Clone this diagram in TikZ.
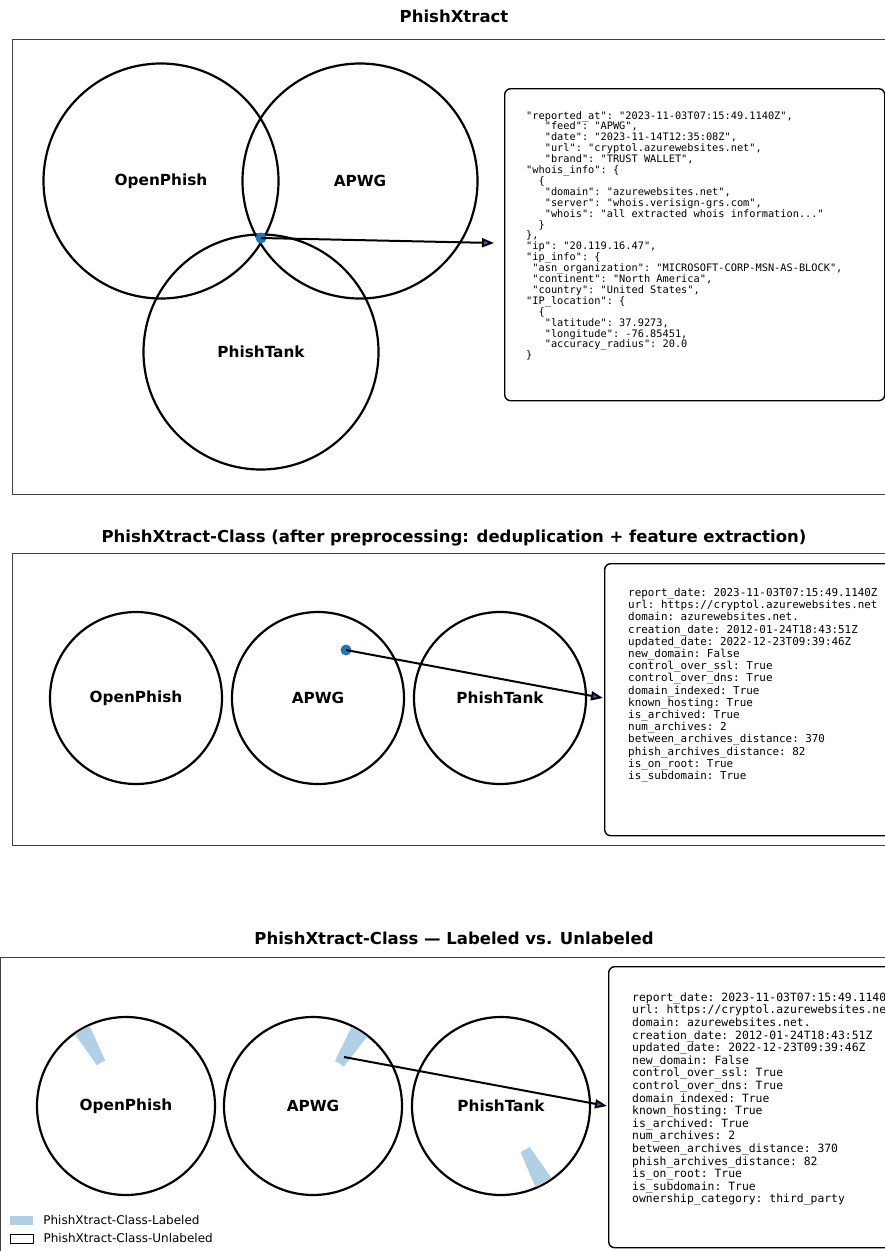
\documentclass[tikz,border=0pt]{standalone}
\usepackage{fontspec}
\setmainfont{DejaVu Sans}
\setmonofont{DejaVu Sans Mono}
\usetikzlibrary{calc,positioning,arrows.meta}
\definecolor{tabblue}{RGB}{31,119,180}
\colorlet{labeled}{tabblue!35}
\colorlet{spine}{black!75}
\tikzset{>={Triangle[length=12pt,width=9pt,fill=tabblue]}}
\newcommand{\monofont}[2]{\ttfamily\frenchspacing\fontsize{#1}{#2}\selectfont}
\tikzstyle{venn}=[circle,draw,line width=2.2pt,inner sep=0pt,font=\fontsize{15.3}{18}\selectfont\bfseries]
\tikzstyle{dot}=[circle,fill=tabblue,inner sep=0pt,minimum size=11pt]
\tikzstyle{link}=[->,line width=2pt,black]
\tikzstyle{frame}=[draw=spine,line width=1pt]
\tikzstyle{infobox}=[draw,line width=1.4pt,rounded corners=6pt,anchor=north west,inner sep=0pt]
\tikzstyle{infotext}=[align=left,anchor=north west,inner sep=0pt]
\tikzstyle{paneltitle}=[anchor=base,inner sep=0pt,font=\fontsize{16.5}{20}\selectfont\bfseries]
\tikzstyle{legpatch}=[inner sep=0pt,minimum width=23pt,minimum height=9pt]
\tikzstyle{legtext}=[inner sep=0pt,font=\fontsize{12}{14}\selectfont]
% labeled slice of a source circle: #1 centre, #2 and #3 angles as seen on the page
\newcommand{\labslice}[3]{%
  \pgfmathsetmacro\sa{-(#2)}
  \pgfmathsetmacro\sb{-(#3)}
  \fill[labeled] ($(#1)+(\sa:\rin)$) arc[start angle=\sa,end angle=\sb,radius=\rin]
    -- ($(#1)+(\sb:\rout)$) arc[start angle=\sb,end angle=\sa,radius=\rout] -- cycle;
}

\begin{document}
\begin{tikzpicture}[x=1pt,y=-1pt]
  \useasboundingbox (0,0) rectangle (885,1251);
  \fill[white] (0,0) rectangle (885,1251);
  \clip (0,0) rectangle (885,1251);
  \def\rin{50}
  \def\rout{88}

  % PANEL 1
  \node[paneltitle] (title1) at (454,22) {PhishXtract};
  \draw[frame] (12,39) rectangle (900,494);
  \node[venn,minimum size=235pt] (op1)   at (161,181) {OpenPhish};
  \node[venn,minimum size=235pt] (apwg1) at (360,181) {APWG};
  \node[venn,minimum size=235pt] (pt1)   at (261,352) {PhishTank};
  \node[infobox,minimum width=380pt,minimum height=312pt] (box1) at (504,88) {};
  \node[infotext,font=\monofont{10.3}{10.9}] (json1) at ($(box1.north west)+(22,23)$) {%
"reported\_at": "2023-11-03T07:15:49.1140Z",\\
~~~"feed": "APWG",\\
~~~"date": "2023-11-14T12:35:08Z",\\
~~~"url": "cryptol.azurewebsites.net",\\
~~~"brand": "TRUST WALLET",\\
"whois\_info": \{\\
~~\{\\
~~~"domain": "azurewebsites.net",\\
~~~"server": "whois.verisign-grs.com",\\
~~~"whois": "all extracted whois information..."\\
~~\}\\
\},\\
"ip": "20.119.16.47",\\
"ip\_info": \{\\
~"asn\_organization": "MICROSOFT-CORP-MSN-AS-BLOCK",\\
~"continent": "North America",\\
~"country": "United States",\\
"IP\_location": \{\\
~~\{\\
~~~"latitude": 37.9273,\\
~~~"longitude": -76.85451,\\
~~~"accuracy\_radius": 20.0\\
\}};
  \node[dot] (dot1) at (261,238) {};
  \coordinate (tip1) at (494,243);
  \draw[link] (dot1.center) -- (tip1);

  % PANEL 2
  \node[paneltitle] (title2) at (454,542.5) {PhishXtract-Class (after preprocessing: deduplication + feature extraction)};
  \draw[frame] (12,553) rectangle (900,845);
  \node[venn,minimum size=172pt] (op2)   at (136,698) {OpenPhish};
  \node[venn,minimum size=172pt] (apwg2) at (318,698) {APWG};
  \node[venn,minimum size=172pt] (pt2)   at (500,698) {PhishTank};
  \node[infobox,minimum width=300pt,minimum height=272pt] (box2) at (604,563) {};
  \node[infotext,font=\monofont{10.9}{12.2}] (feat2) at ($(box2.north west)+(24,25)$) {%
report\_date: 2023-11-03T07:15:49.1140Z\\
url: https://cryptol.azurewebsites.net\\
domain: azurewebsites.net.\\
creation\_date: 2012-01-24T18:43:51Z\\
updated\_date: 2022-12-23T09:39:46Z\\
new\_domain: False\\
control\_over\_ssl: True\\
control\_over\_dns: True\\
domain\_indexed: True\\
known\_hosting: True\\
is\_archived: True\\
num\_archives: 2\\
between\_archives\_distance: 370\\
phish\_archives\_distance: 82\\
is\_on\_root: True\\
is\_subdomain: True};
  \node[dot] (dot2) at (346,650) {};
  \coordinate (tip2) at (603,698);
  \draw[link] (dot2.center) -- (tip2);

  % PANEL 3
  \node[paneltitle] (title3) at (454,944.5) {PhishXtract-Class — Labeled vs. Unlabeled};
  \draw[frame] (0.5,957) rectangle (900,1270);
  \node[venn,minimum size=178pt] (op3)   at (126,1106) {OpenPhish};
  \node[venn,minimum size=178pt] (apwg3) at (313,1106) {APWG};
  \node[venn,minimum size=178pt] (pt3)   at (501,1106) {PhishTank};
  \labslice{op3.center}{114.5}{125.5}
  \labslice{apwg3.center}{52}{64}
  \labslice{pt3.center}{-67}{-55}
  \node[infobox,minimum width=300pt,minimum height=281pt] (box3) at (608,966) {};
  \node[infotext,font=\monofont{11.4}{12.6}] (feat3) at ($(box3.north west)+(24,26.5)$) {%
report\_date: 2023-11-03T07:15:49.1140Z\\
url: https://cryptol.azurewebsites.net\\
domain: azurewebsites.net.\\
creation\_date: 2012-01-24T18:43:51Z\\
updated\_date: 2022-12-23T09:39:46Z\\
new\_domain: False\\
control\_over\_ssl: True\\
control\_over\_dns: True\\
domain\_indexed: True\\
known\_hosting: True\\
is\_archived: True\\
num\_archives: 2\\
between\_archives\_distance: 370\\
phish\_archives\_distance: 82\\
is\_on\_root: True\\
is\_subdomain: True\\
ownership\_category: third\_party};
  \coordinate (src3) at (344,1057);
  \coordinate (tip3) at (607,1106);
  \draw[link] (src3) -- (tip3);

  % LEGEND
  \node[legpatch,fill=labeled] (legl) at (21.5,1220.5) {};
  \node[legtext,right=10pt of legl] (legltext) {PhishXtract-Class-Labeled};
  \node[legpatch,draw=black,line width=0.8pt,fill=white] (legu) at (21.5,1238.5) {};
  \node[legtext,right=10pt of legu] (legutext) {PhishXtract-Class-Unlabeled};
\end{tikzpicture}
\end{document}
